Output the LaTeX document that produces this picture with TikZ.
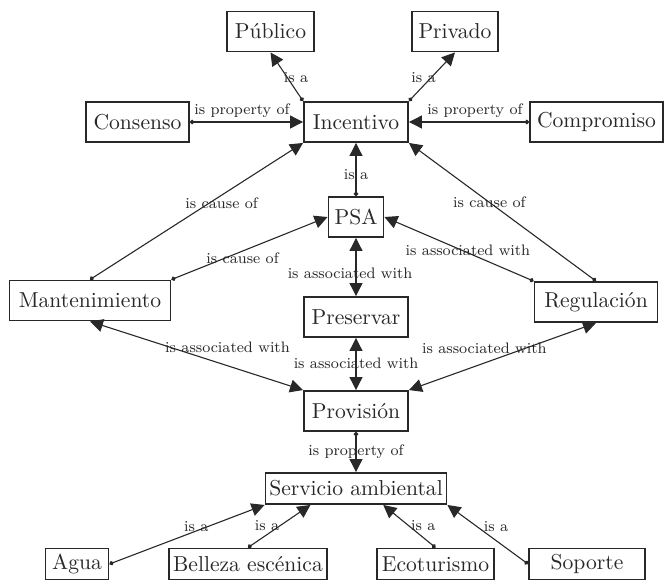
\documentclass[tikz,border=0pt]{standalone}
\usetikzlibrary{arrows.meta,calc}
\definecolor{ink}{RGB}{40,40,40}
\begin{document}
\begin{tikzpicture}[x=0.5pt,y=-0.5pt,
 box/.style={draw=ink,line width=0.95pt,inner sep=0pt,minimum height=20pt,text=ink,font=\fontsize{10.8}{13}\selectfont},
 sbox/.style={box,minimum height=15.5pt},
 edge/.style={draw=ink,line width=0.55pt,{Circle[length=2.2pt]}-{Triangle[length=6.5pt,width=6.5pt]}},
 both/.style={draw=ink,line width=0.55pt,{Triangle[length=6.5pt,width=6.5pt]}-{Triangle[length=6.5pt,width=6.5pt]}},
 lab/.style={text=ink,font=\fontsize{7.6}{9.5}\selectfont,inner sep=0pt}]
\useasboundingbox (0,0) rectangle (664,580);
% nodes
\node[box,minimum width=43.5pt] (pub) at (270.5,31.5) {Público};
\node[box,minimum width=43pt] (priv) at (455,31.5) {Privado};
\node[box,minimum width=51.5pt] (cons) at (137.5,122) {Consenso};
\node[box,minimum width=52pt] (inc) at (356,122) {Incentivo};
\node[box,minimum width=66.5pt] (comp) at (596.5,122) {Compromiso};
\node[box,minimum width=27.5pt] (psa) at (356,217) {PSA};
\node[box,minimum width=80.5pt] (mant) at (90,300.5) {Mantenimiento};
\node[box,minimum width=61.5pt] (reg) at (596,302) {Regulación};
\node[box,minimum width=52pt] (pres) at (356,317) {Preservar};
\node[box,minimum width=52pt] (prov) at (356,411) {Provisión};
\node[box,minimum width=90.5pt,minimum height=15.5pt] (serv) at (356,488.5) {Servicio ambiental};
\node[sbox,minimum width=31.5pt] (agua) at (77,564) {Agua};
\node[sbox,minimum width=79pt] (bel) at (248,564) {Belleza escénica};
\node[sbox,minimum width=58.5pt] (eco) at (435.5,564) {Ecoturismo};
\node[sbox,minimum width=58pt] (sop) at (587,564) {Soporte};
% connectors
\draw[edge] (inc.north west) -- (pub.south) node[lab,pos=0.49,xshift=4.5pt] (l1) {is a};
\draw[edge] (inc.north east) -- (priv.south) node[lab,pos=0.49,xshift=-4pt] (l2) {is a};
\draw[edge] (cons.east) -- (inc.west) node[lab,pos=0.46,yshift=5.5pt] (l3) {is property of};
\draw[edge] (comp.west) -- (inc.east) node[lab,pos=0.45,yshift=5.5pt] (l4) {is property of};
\draw[edge] (psa.north) -- (inc.south) node[lab,pos=0.4] (l5) {is a};
\draw[edge] (mant.north) -- (inc.south west) node[lab,pos=0.6,xshift=1.9pt,yshift=-2.9pt] (l6) {is cause of};
\draw[edge] (reg.north) -- (inc.south east) node[lab,pos=0.57] (l7) {is cause of};
\draw[edge] (mant.north east) -- (psa.west) node[lab,pos=0.44,xshift=1.2pt,yshift=-3pt] (l8) {is cause of};
\draw[edge] (reg.north west) -- (psa.east) node[lab,pos=0.44,yshift=1.2pt] (l9) {is associated with};
\draw[both] (psa.south) -- (pres.north) node[lab,pos=0.6,xshift=-3pt] (l10) {is associated with};
\draw[both] (mant.south) -- (prov.north west) node[lab,pos=0.62,xshift=2.7pt,yshift=8.2pt] (l11) {is associated with};
\draw[both] (pres.south) -- (prov.north) node[lab,pos=0.48] (l12) {is associated with};
\draw[both] (reg.south) -- (prov.north east) node[lab,pos=0.57,xshift=-2.5pt,yshift=6.6pt] (l13) {is associated with};
\draw[edge] (prov.south) -- (serv.north) node[lab,pos=0.49] (l14) {is property of};
\draw[edge] (agua.east) -- (serv.south west) node[lab,pos=0.56,yshift=2.3pt] (l15) {is a};
\draw[edge] (bel.north) -- ($(serv.south west)!0.251!(serv.south east)$) node[lab,pos=0.37,xshift=-2pt,yshift=3pt] (l16) {is a};
\draw[edge] (eco.north) -- ($(serv.south west)!0.649!(serv.south east)$) node[lab,pos=0.35,xshift=3pt,yshift=3.5pt] (l17) {is a};
\draw[edge] (sop.west) -- (serv.south east) node[lab,pos=0.48,xshift=3.3pt,yshift=4.6pt] (l18) {is a};
\end{tikzpicture}
\end{document}
